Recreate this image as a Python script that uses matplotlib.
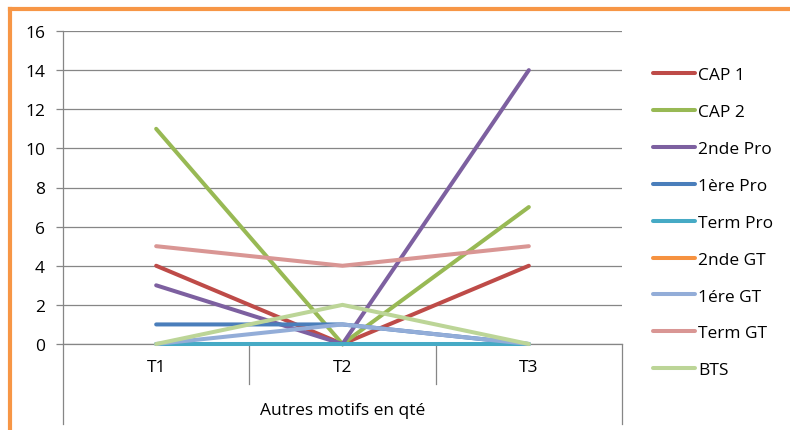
import numpy as np
import matplotlib.pyplot as plt
from matplotlib.lines import Line2D

# Data
periods = ['T1', 'T2', 'T3']
group_label = 'Autres motifs en qté'
series_names = ['CAP 1', 'CAP 2', '2nde Pro', '1ère Pro', 'Term Pro',
                '2nde GT', '1ére GT', 'Term GT', 'BTS']
cap1 = [4, 0, 4]
cap2 = [11, 0, 7]
pro2 = [3, 0, 14]
pro1 = [1, 1, 0]
pro_term = [0, 0, 0]
gt2 = [np.nan, np.nan, np.nan]   # no values shown for this series
gt1 = [0, 1, 0]
gt_term = [5, 4, 5]
bts = [0, 2, 0]
series_values = [cap1, cap2, pro2, pro1, pro_term, gt2, gt1, gt_term, bts]
colors = ['#BE4B48', '#98B954', '#7D60A0', '#4A7EBB', '#46AAC5',
          '#F69240', '#93ADD8', '#D99694', '#BCD597']
y_ticks = [0, 2, 4, 6, 8, 10, 12, 14, 16]

plt.rcParams['font.family'] = ['Open Sans', 'DejaVu Sans']
fs = 12.5

W, H = 790, 431
fig = plt.figure(figsize=(W / 100, H / 100), dpi=100)
ax = fig.add_axes([63 / W, 1 - 345 / H, (622 - 63) / W, (345 - 32) / H])

x = np.arange(len(periods))
for name, vals, c in zip(series_names, series_values, colors):
    ax.plot(x, vals, color=c, lw=2.9, label=name, solid_capstyle='round',
            solid_joinstyle='miter', zorder=3, clip_on=False)

grid_c = '#868686'
ax.set_xlim(-0.5, len(periods) - 0.5)
ax.set_ylim(0, 16)
ax.set_yticks(y_ticks)
ax.yaxis.grid(True, color=grid_c, lw=0.9)
ax.set_axisbelow(True)
ax.tick_params(axis='y', length=5, width=0.9, color=grid_c, pad=8, labelsize=fs)
ax.set_xticks(x, periods)
ax.tick_params(axis='x', length=0, pad=11, labelsize=fs)
for s in ['top', 'right']:
    ax.spines[s].set_visible(False)
for s in ['left', 'bottom']:
    ax.spines[s].set_color(grid_c)
    ax.spines[s].set_linewidth(0.9)

# category axis separators (multi-level)
tr = ax.get_xaxis_transform()
ax_h = (345 - 32)
for b in [0.5, 1.5]:
    ax.add_line(Line2D([b, b], [0, -40 / ax_h], transform=tr, color=grid_c,
                       lw=0.9, clip_on=False))
for b in [-0.5, len(periods) - 0.5]:
    ax.add_line(Line2D([b, b], [0, -80 / ax_h], transform=tr, color=grid_c,
                       lw=0.9, clip_on=False))
ax.text(1, -66 / ax_h, group_label, transform=tr, ha='center', va='center',
        fontsize=fs)

leg = ax.legend(loc='upper left', bbox_to_anchor=(653 / W, 1 - 68 / H),
                bbox_transform=fig.transFigure, frameon=False, fontsize=fs,
                borderpad=0, borderaxespad=0, handlelength=2.4,
                handletextpad=0.2, labelspacing=1.195)

# orange frame
fig.add_artist(Line2D([10 / W, 1], [1 - 10 / H, 1 - 10 / H], color='#F79646',
                      lw=3, transform=fig.transFigure))
fig.add_artist(Line2D([10 / W, 10 / W], [0, 1 - 10 / H], color='#F79646',
                      lw=3, transform=fig.transFigure))

fig.savefig('out.png', dpi=100)
